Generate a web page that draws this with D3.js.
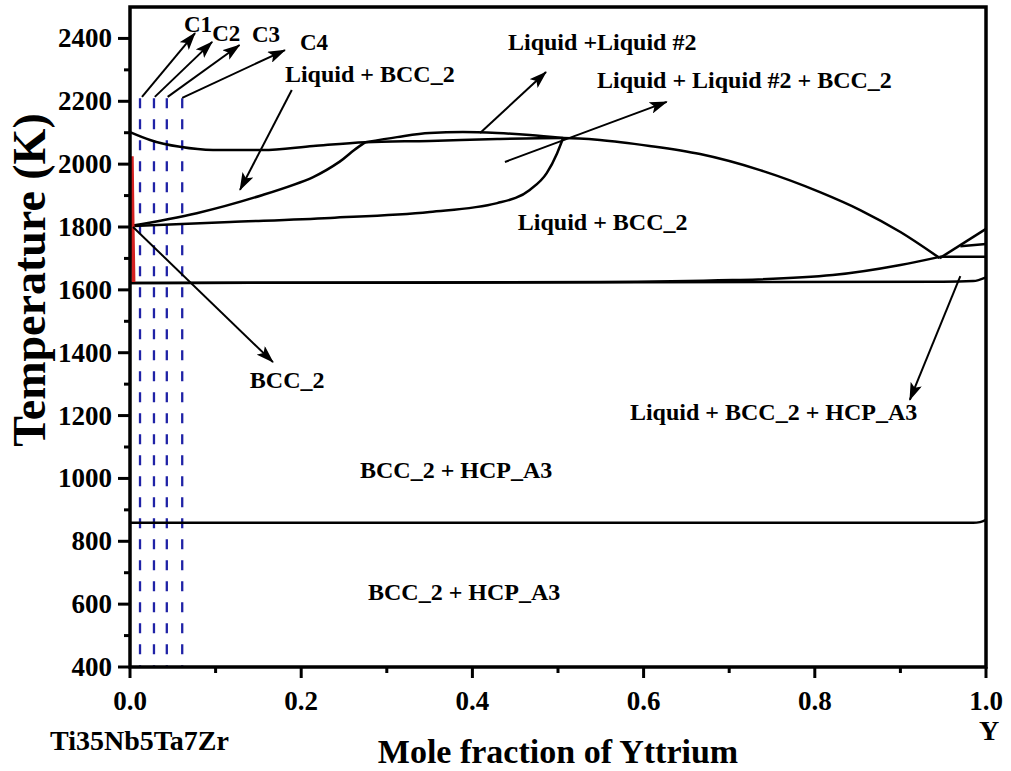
<!DOCTYPE html>
<html><head><meta charset="utf-8">
<script src="https://cdn.jsdelivr.net/npm/d3@7"></script>
<style>
html,body{margin:0;padding:0;background:#fff;}
svg text{font-family:"Liberation Serif","Times New Roman",serif;font-weight:bold;fill:#000;}
</style></head>
<body><svg id="c" width="1011" height="771"></svg>
<script>
// ---- data (x = mole fraction Y, T in K) ----
const xTicks = [0, 0.2, 0.4, 0.6, 0.8, 1.0];
const yTicks = [400, 600, 800, 1000, 1200, 1400, 1600, 1800, 2000, 2200, 2400];
const liquidus = [[0,2102],[0.0234,2077],[0.0584,2055],[0.097,2045],[0.155,2045],[0.214,2058],[0.275,2070],[0.350,2074],[0.429,2080],[0.506,2083],[0.549,2077],[0.607,2058],[0.666,2032],[0.736,1981],[0.806,1911],[0.853,1854],[0.900,1784],[0.946,1701]];
const liqRight = [[0.946,1701],[1.0,1794]];
const dome = [[0.275,2070],[0.312,2086],[0.350,2099],[0.389,2102],[0.429,2099],[0.467,2093],[0.506,2083]];
const curveA = [[0,1803],[0.078,1844],[0.155,1902],[0.214,1959],[0.245,2008],[0.262,2045],[0.275,2070]];
const curveB = [[0,1803],[0.117,1816],[0.234,1829],[0.350,1848],[0.429,1876],[0.467,1918],[0.487,1972],[0.499,2035],[0.506,2083]];
const solvus = [[0,1622],[0.549,1625],[0.704,1631],[0.821,1647],[0.900,1679],[0.946,1705]];
const line1620 = [[0,1622],[0.95,1626],[0.985,1628],[1.0,1640]];
const shortA = [[0.946,1705],[1.0,1705]];
const shortB = [[0.970,1739],[1.0,1746]];
const line860 = [[0,859],[0.985,859],[0.993,861],[1.0,868]];
const redLine = [[0.002,2025],[0.003,1800],[0.004,1625]];
const dashX = [0.0117, 0.028, 0.043, 0.061];
const dashTop = 2210;
const arrows = [
  {from:[0.014,2214], to:[0.076,2417]},
  {from:[0.029,2214], to:[0.096,2389]},
  {from:[0.044,2214], to:[0.128,2379]},
  {from:[0.061,2211], to:[0.181,2363]},
  {from:[0.189,2236], to:[0.1285,1918]},
  {from:[0.409,2099], to:[0.486,2293]},
  {from:[0.438,2007], to:[0.627,2198]},
  {from:[0.0035,1800], to:[0.167,1370]},
  {from:[0.970,1644], to:[0.911,1250]}
];
const labels = [
  {t:"C1", x:0.063, y:2420, s:23},
  {t:"C2", x:0.096, y:2392, s:23},
  {t:"C3", x:0.1425, y:2389, s:23},
  {t:"C4", x:0.1986, y:2363, s:23},
  {t:"Liquid + BCC_2", x:0.181, y:2261, s:24},
  {t:"Liquid +Liquid #2", x:0.4416, y:2363, s:24},
  {t:"Liquid + Liquid #2 + BCC_2", x:0.5456, y:2242, s:24},
  {t:"Liquid + BCC_2", x:0.453, y:1790, s:24},
  {t:"BCC_2", x:0.140, y:1288, s:24},
  {t:"Liquid + BCC_2 + HCP_A3", x:0.584, y:1186, s:24},
  {t:"BCC_2 + HCP_A3", x:0.2687, y:1001, s:24},
  {t:"BCC_2 + HCP_A3", x:0.278, y:613, s:24}
];

const svg = d3.select("#c");
const x = d3.scaleLinear().domain([0,1]).range([130,986]);
const y = d3.scaleLinear().domain([400,2500]).range([667,7]);

svg.append("defs").append("marker")
  .attr("id","ah").attr("markerUnits","userSpaceOnUse")
  .attr("viewBox","0 0 18 12").attr("refX",17).attr("refY",6)
  .attr("markerWidth",18).attr("markerHeight",12).attr("orient","auto")
  .append("path").attr("d","M0,0 L18,6 L0,12 L4,6 Z").attr("fill","#000");

// dashed lines
svg.append("g").selectAll("line").data(dashX).join("line")
  .attr("x1",d=>x(d)).attr("x2",d=>x(d)).attr("y1",y(dashTop)).attr("y2",y(400))
  .attr("stroke","#1f22a6").attr("stroke-width",2.3).attr("stroke-dasharray","10,11");

const lg = d3.line().x(d=>x(d[0])).y(d=>y(d[1])).curve(d3.curveMonotoneX);
const lc = d3.line().x(d=>x(d[0])).y(d=>y(d[1])).curve(d3.curveCatmullRom);
const ll = d3.line().x(d=>x(d[0])).y(d=>y(d[1]));
const curves = [liquidus, dome, curveB, solvus, line1620, line860];
svg.append("g").selectAll("path").data(curves).join("path")
  .attr("d",lg).attr("fill","none").attr("stroke","#000").attr("stroke-width",2.5);
svg.append("path").attr("d",lc(curveA)).attr("fill","none").attr("stroke","#000").attr("stroke-width",2.5);
svg.append("g").selectAll("path").data([liqRight, shortA, shortB]).join("path")
  .attr("d",ll).attr("fill","none").attr("stroke","#000").attr("stroke-width",2.5);
svg.append("path").attr("d",ll(redLine)).attr("fill","none").attr("stroke","#d42020").attr("stroke-width",4);

// arrows
svg.append("g").selectAll("line").data(arrows).join("line")
  .attr("x1",d=>x(d.from[0])).attr("y1",d=>y(d.from[1]))
  .attr("x2",d=>x(d.to[0])).attr("y2",d=>y(d.to[1]))
  .attr("stroke","#000").attr("stroke-width",2).attr("marker-end","url(#ah)");

// labels
svg.append("g").selectAll("text").data(labels).join("text")
  .attr("x",d=>x(d.x)).attr("y",d=>y(d.y)).attr("font-size",d=>d.s).text(d=>d.t);

// axes
const minorX = d3.range(0.1,1.0,0.2);
const minorY = d3.range(500,2500,200);
const ax = svg.append("g");
ax.selectAll(".mx").data(xTicks).join("line").attr("x1",d=>x(d)).attr("x2",d=>x(d)).attr("y1",667).attr("y2",678).attr("stroke","#000").attr("stroke-width",3);
ax.selectAll(".nx").data(minorX).join("line").attr("x1",d=>x(d)).attr("x2",d=>x(d)).attr("y1",667).attr("y2",673).attr("stroke","#000").attr("stroke-width",3);
ax.selectAll(".my").data(yTicks).join("line").attr("x1",118).attr("x2",130).attr("y1",d=>y(d)).attr("y2",d=>y(d)).attr("stroke","#000").attr("stroke-width",3);
ax.selectAll(".ny").data(minorY).join("line").attr("x1",124).attr("x2",130).attr("y1",d=>y(d)).attr("y2",d=>y(d)).attr("stroke","#000").attr("stroke-width",3);
ax.selectAll(".lx").data(xTicks).join("text").attr("x",d=>x(d)).attr("y",710).attr("text-anchor","middle").attr("font-size",27).text(d=>d3.format(".1f")(d));
ax.selectAll(".ly").data(yTicks).join("text").attr("x",112).attr("y",d=>y(d)+9).attr("text-anchor","end").attr("font-size",27).text(d=>d);
svg.append("rect").attr("x",x(0)).attr("y",y(2500)).attr("width",x(1)-x(0)).attr("height",y(400)-y(2500))
  .attr("fill","none").attr("stroke","#000").attr("stroke-width",3.5);

svg.append("text").attr("x",558).attr("y",763).attr("text-anchor","middle").attr("font-size",34).text("Mole fraction of Yttrium");
svg.append("text").attr("transform","translate(45,280) rotate(-90)").attr("text-anchor","middle").attr("font-size",46).text("Temperature (K)");
svg.append("text").attr("x",50).attr("y",750).attr("font-size",28).text("Ti35Nb5Ta7Zr");
svg.append("text").attr("x",989).attr("y",740).attr("text-anchor","middle").attr("font-size",28).text("Y");
</script></body></html>
